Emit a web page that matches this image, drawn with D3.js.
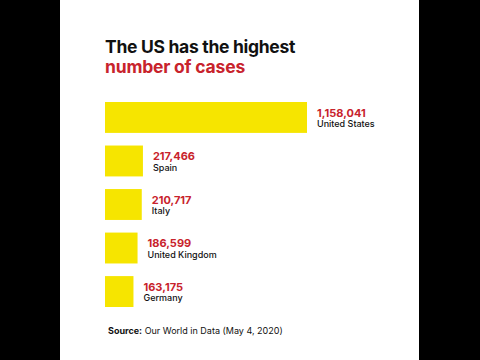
<!DOCTYPE html>
<html>
<head>
<meta charset="utf-8">
<script src="https://cdn.jsdelivr.net/npm/d3@7"></script>
<style>
  body { margin: 0; background: #000; }
  svg { display: block; }
</style>
</head>
<body>
<svg width="480" height="360"></svg>
<script>
var countries = ["United States", "Spain", "Italy", "United Kingdom", "Germany"];
var cases = [1158041, 217466, 210717, 186599, 163175];

var svg = d3.select("svg"),
    W = +svg.attr("width"),
    H = +svg.attr("height");

var font = "Inter, 'Noto Sans', sans-serif";
var red = "#c8232c";
var yellow = "#f6e500";

// white panel in the middle, black letterbox on the sides
svg.append("rect").attr("x", 0).attr("y", 0).attr("width", W).attr("height", H).attr("fill", "#000");
svg.append("rect").attr("x", 60).attr("y", 0).attr("width", 359).attr("height", H).attr("fill", "#fff");

// title
svg.append("text")
  .attr("x", 105).attr("y", 53)
  .attr("font-family", font).attr("font-size", 17.5).attr("font-weight", 700)
  .attr("letter-spacing", -0.3)
  .attr("fill", "#111")
  .text("The US has the highest");
svg.append("text")
  .attr("x", 105).attr("y", 73)
  .attr("font-family", font).attr("font-size", 17.5).attr("font-weight", 700)
  .attr("letter-spacing", -0.2)
  .attr("fill", red)
  .text("number of cases");

var data = countries.map(function(c, i) { return {name: c, value: cases[i]}; });

var x = d3.scaleLinear()
  .domain([0, d3.max(cases)])
  .range([0, 202]);

var y = d3.scaleBand()
  .domain(countries)
  .range([102, 307])
  .paddingInner(0.29)
  .paddingOuter(0);

var g = svg.append("g").attr("transform", "translate(105,0)");

var row = g.selectAll("g")
  .data(data)
  .enter().append("g")
    .attr("transform", function(d) { return "translate(0," + y(d.name) + ")"; });

row.append("rect")
  .attr("x", 0)
  .attr("y", 0)
  .attr("width", function(d) { return x(d.value); })
  .attr("height", y.bandwidth())
  .attr("fill", yellow);

row.append("text")
  .attr("x", function(d) { return x(d.value) + 10; })
  .attr("y", 14.5)
  .attr("font-family", font).attr("font-size", 11).attr("font-weight", 700)
  .attr("fill", red)
  .text(function(d) { return d3.format(",")(d.value); });

row.append("text")
  .attr("x", function(d) { return x(d.value) + 10; })
  .attr("y", 25)
  .attr("font-family", font).attr("font-size", 9).attr("font-weight", 500)
  .attr("fill", "#111")
  .text(function(d) { return d.name; });

// source line
var src = svg.append("text")
  .attr("x", 108).attr("y", 334)
  .attr("font-family", font).attr("font-size", 9)
  .attr("fill", "#111");
src.append("tspan").attr("font-weight", 700).text("Source:");
src.append("tspan").text(" Our World in Data (May 4, 2020)");
</script>
</body>
</html>
